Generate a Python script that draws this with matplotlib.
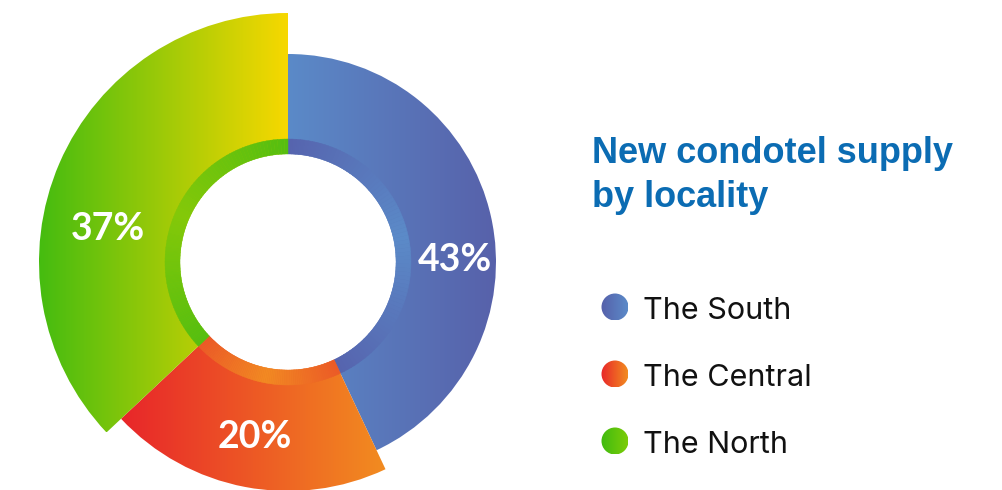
import numpy as np
import matplotlib
matplotlib.use("Agg")
import matplotlib.pyplot as plt
from matplotlib.colors import LinearSegmentedColormap, to_rgb
from matplotlib.patches import Wedge, Circle

regions = ["The South", "The Central", "The North"]
shares = [43, 20, 37]
labels = ["43%", "20%", "37%"]
outer_r = [208, 229, 249]
grad_left = ["#5b8ac8", "#e8262a", "#45bc10"]
grad_right = ["#5761aa", "#f28c20", "#f7d800"]
band_end = ["#5664ae", "#eb5a27", "#55be10"]
band_mid = ["#5b8ac8", "#f28a22", "#84c809"]
legend_left = ["#5660aa", "#e8262a", "#3fbb10"]
legend_right = ["#5b8ac8", "#f28c20", "#7ccc08"]
title_lines = ["New condotel supply", "by locality"]

W, H = 1003, 490
CX, CY = 288, H - 262
R_IN, R_RING = 108, 123
label_r = [167, 178, 183]
label_shift = [12, 0, -13]


def gradient_fill(ax, patch, c_left, c_right, z):
    # horizontal gradient image clipped to the patch outline
    patch.set_facecolor("none")
    patch.set_edgecolor("none")
    ax.add_patch(patch)
    bb = patch.get_path().transformed(patch.get_patch_transform()).get_extents()
    cmap = LinearSegmentedColormap.from_list("g", [c_left, c_right])
    im = ax.imshow(np.linspace(0, 1, 256)[None, :], cmap=cmap, aspect="auto",
                   extent=[bb.x0, bb.x1, bb.y0, bb.y1], interpolation="bilinear",
                   zorder=z)
    im.set_clip_path(patch)


def band(ax, t1, t2, c_end, c_mid, n=80):
    # inner band: colour runs end -> mid -> end along the arc
    a, b = np.array(to_rgb(c_end)), np.array(to_rgb(c_mid))
    edges = np.linspace(t1, t2, n + 1)
    for k in range(n):
        f = 1 - abs((k + 0.5) / n * 2 - 1)
        col = a + (b - a) * f
        ax.add_patch(Wedge((CX, CY), R_RING, edges[k], edges[k + 1] + 0.05,
                           width=R_RING - R_IN, facecolor=col, edgecolor=col,
                           linewidth=0.3, zorder=2))


fig = plt.figure(figsize=(W / 100, H / 100), dpi=100)
ax = fig.add_axes([0, 0, 1, 1])
ax.axis("off")

start = 0.0
total = sum(shares)
for i, (share, r) in enumerate(zip(shares, outer_r)):
    sweep = 360.0 * share / total
    t1, t2 = 90 - (start + sweep), 90 - start
    gradient_fill(ax, Wedge((CX, CY), r, t1, t2, width=r - R_IN),
                  grad_left[i], grad_right[i], 1)
    band(ax, t1, t2, band_end[i], band_mid[i])
    ang = np.deg2rad(start + sweep / 2 + label_shift[i])
    ax.text(CX + label_r[i] * np.sin(ang), CY + label_r[i] * np.cos(ang), labels[i],
            ha="center", va="center", color="white", fontsize=27,
            fontweight="bold", family="Lato", zorder=5)
    start += sweep

for k, line in enumerate(title_lines):
    ax.text(592, H - 163 - 44 * k, line, ha="left", va="baseline",
            color="#0b6cb3", fontsize=26, fontweight="bold",
            family="Liberation Sans", zorder=5)

for i, name in enumerate(regions):
    y = H - (307 + 67 * i)
    gradient_fill(ax, Circle((615, y), 13.5), legend_left[i], legend_right[i], 3)
    ax.text(643, y - 12, name, ha="left", va="baseline", color="#111111",
            fontsize=22, family="Inter", zorder=5)

ax.set_xlim(0, W)
ax.set_ylim(0, H)
fig.savefig("out.png", dpi=100, facecolor="white")
